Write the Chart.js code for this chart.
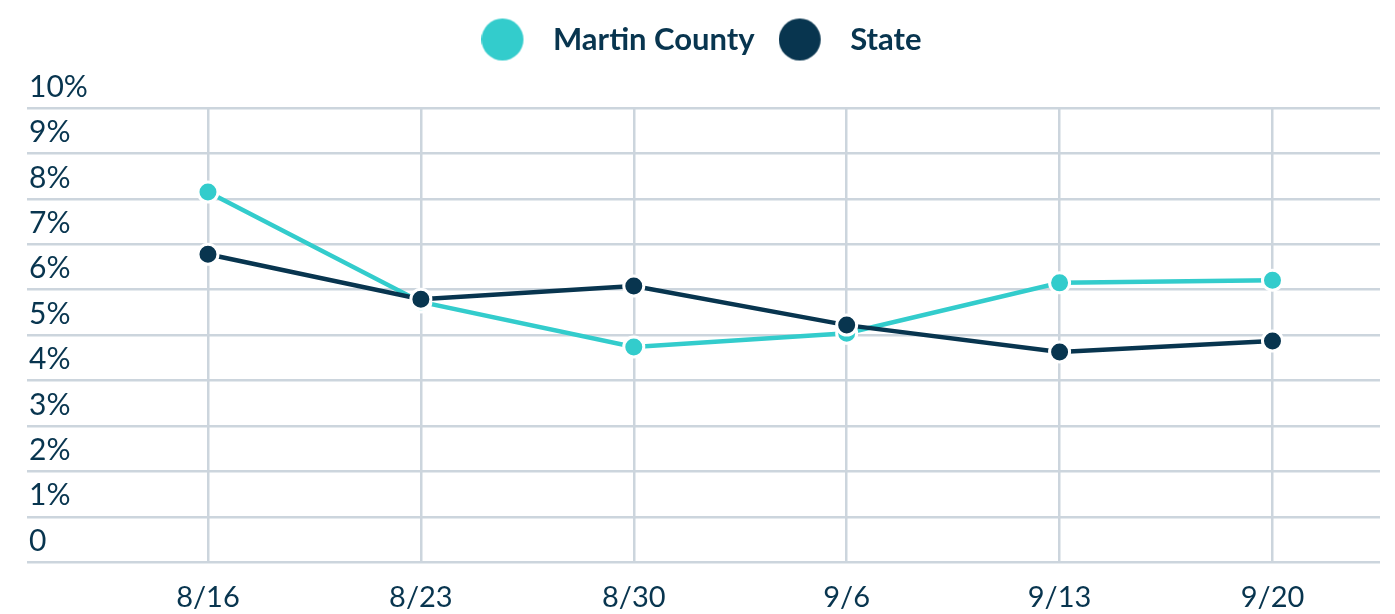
<!DOCTYPE html>
<html>
<head>
<meta charset="utf-8">
<script src="https://cdn.jsdelivr.net/npm/chart.js@4"></script>
<style>
  html, body { margin: 0; padding: 0; background: #fff; }
  #wrap { width: 1395px; height: 614px; }
</style>
</head>
<body>
<div id="wrap"><canvas id="grafico"></canvas></div>
<script>
const labels = ['8/16', '8/23', '8/30', '9/6', '9/13', '9/20'];
const martinCounty = [8.15, 5.73, 4.74, 5.04, 6.15, 6.21];
const state = [6.78, 5.79, 6.08, 5.22, 4.63, 4.87];
const yTicks = [0, 1, 2, 3, 4, 5, 6, 7, 8, 9, 10];

const TEAL = '#33cccc';
const NAVY = '#08354f';
const GRID = '#ccd5dd';

// legend dot: circle on the left of a wider canvas so the text sits further away
function legendDot(color) {
  const c = document.createElement('canvas');
  c.width = 56;
  c.height = 44;
  const g = c.getContext('2d');
  g.fillStyle = color;
  g.beginPath();
  g.arc(21, 22, 21, 0, Math.PI * 2);
  g.fill();
  return c;
}
const dots = [legendDot(TEAL), legendDot(NAVY)];

const legendMargin = {
  id: 'legendMargin',
  beforeInit(chart) {
    const fit = chart.legend.fit;
    chart.legend.fit = function () {
      fit.bind(chart.legend)();
      this.height += 43;
    };
  }
};

function toPoints(arr) {
  return arr.map((v, i) => ({ x: i, y: v }));
}

const ctx = document.getElementById('grafico').getContext('2d');
new Chart(ctx, {
  type: 'line',
  data: {
    datasets: [{
      label: 'Martin County',
      data: toPoints(martinCounty),
      borderColor: TEAL,
      backgroundColor: TEAL,
      borderWidth: 4.5,
      pointRadius: 10,
      pointBorderWidth: 3,
      pointBorderColor: '#fff',
      pointBackgroundColor: TEAL,
      tension: 0,
      order: 1
    }, {
      label: 'State',
      data: toPoints(state),
      borderColor: NAVY,
      backgroundColor: NAVY,
      borderWidth: 4.5,
      pointRadius: 10,
      pointBorderWidth: 3,
      pointBorderColor: '#fff',
      pointBackgroundColor: NAVY,
      tension: 0,
      order: 0
    }]
  },
  options: {
    responsive: true,
    maintainAspectRatio: false,
    animation: false,
    layout: { padding: { left: 23, right: 15, top: 0, bottom: -19 } },
    scales: {
      x: {
        type: 'linear',
        min: -0.85,
        max: 5.505,
        afterBuildTicks: (axis) => {
          axis.ticks = labels.map((_, i) => ({ value: i }));
        },
        grid: { color: GRID, lineWidth: 2.5, drawTicks: false },
        border: { display: false },
        ticks: {
          color: NAVY,
          font: { family: 'Lato', size: 29 },
          padding: 18,
          maxRotation: 0,
          autoSkip: false,
          callback: (v) => labels[v]
        }
      },
      y: {
        min: 0,
        max: 10,
        afterBuildTicks: (axis) => {
          axis.ticks = yTicks.map(v => ({ value: v }));
        },
        grid: { color: GRID, lineWidth: 2.5, drawTicks: false },
        border: { display: false },
        ticks: {
          mirror: true,
          padding: 2,
          labelOffset: -21,
          color: NAVY,
          font: { family: 'Lato', size: 30 },
          callback: (v) => v === 0 ? '0' : v + '%'
        }
      }
    },
    plugins: {
      legend: {
        position: 'top',
        labels: {
          usePointStyle: true,
          pointStyleWidth: 56,
          padding: 24,
          color: NAVY,
          font: { family: 'Lato', size: 31, weight: 'bold' },
          sort: (a, b) => a.datasetIndex - b.datasetIndex,
          generateLabels: (chart) => {
            const items = Chart.defaults.plugins.legend.labels.generateLabels(chart);
            items.forEach(it => { it.pointStyle = dots[it.datasetIndex]; });
            return items;
          }
        }
      },
      tooltip: { enabled: false }
    }
  },
  plugins: [legendMargin]
});
</script>
</body>
</html>
